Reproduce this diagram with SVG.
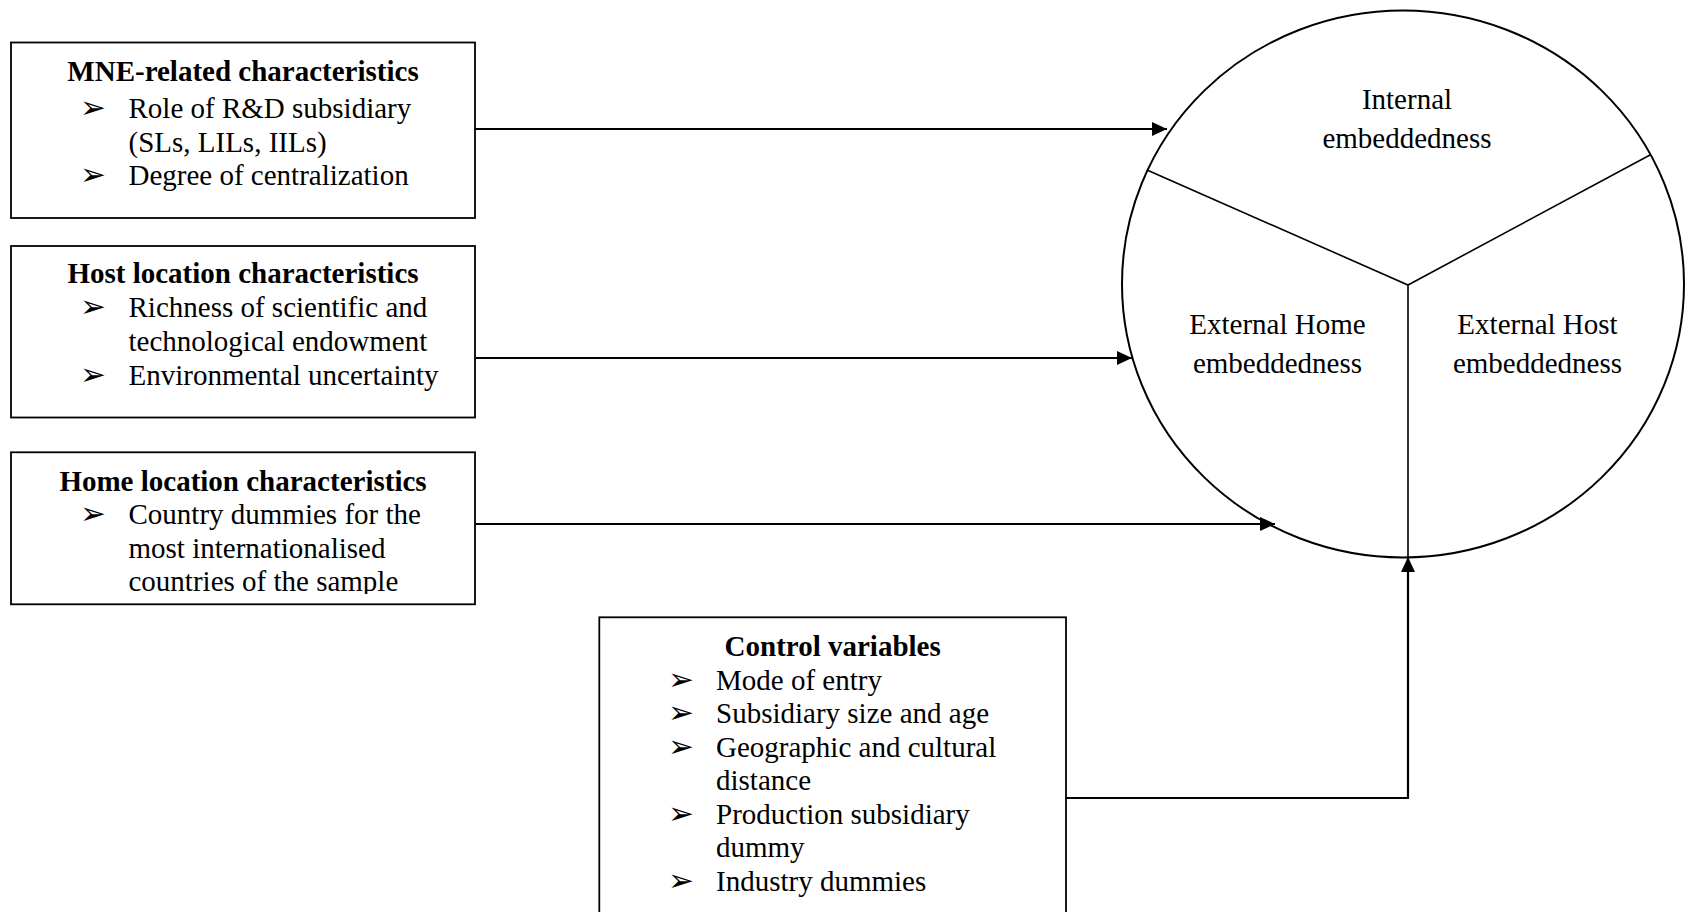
<svg xmlns="http://www.w3.org/2000/svg" width="1687" height="912" viewBox="0 0 1687 912">
  <style>
    .box { fill: #ffffff; stroke: #000000; stroke-width: 1.8; }
    .t { font-family: "Liberation Serif", "Times New Roman", serif; font-size: 29px; fill: #000000; }
    .title { font-weight: bold; text-anchor: middle; }
    .mid { text-anchor: middle; }
    .bul { font-family: "DejaVu Sans", sans-serif; font-size: 31px; fill: #000000; }
    .edge { fill: none; stroke: #000000; stroke-width: 2.2; }
    .div { fill: none; stroke: #000000; stroke-width: 1.6; }
  </style>
  <defs>
    <marker id="arrow" viewBox="0 0 15 14" refX="15" refY="7" markerWidth="15" markerHeight="14" markerUnits="userSpaceOnUse" orient="auto">
      <path d="M0,0 L15,7 L0,14 Z" fill="#000000"/>
    </marker>
    <clipPath id="homeClip">
      <rect x="10" y="452" width="467" height="142"/>
    </clipPath>
  </defs>
  <rect width="1687" height="912" fill="#ffffff"/>

  <!-- MNE-related characteristics -->
  <g id="mne">
    <rect class="box" x="11" y="42.5" width="464" height="175.5"/>
    <text class="t title" x="243" y="80.5">MNE-related characteristics</text>
    <text class="bul" x="80" y="118">➢</text>
    <text class="t" x="128.5" y="118">Role of R&amp;D subsidiary</text>
    <text class="t" x="128.5" y="151.5">(SLs, LILs, IILs)</text>
    <text class="bul" x="80" y="185">➢</text>
    <text class="t" x="128.5" y="185">Degree of centralization</text>
  </g>

  <!-- Host location characteristics -->
  <g id="host">
    <rect class="box" x="11" y="246" width="464" height="171.5"/>
    <text class="t title" x="243" y="283.3">Host location characteristics</text>
    <text class="bul" x="80" y="317">➢</text>
    <text class="t" x="128.5" y="317">Richness of scientific and</text>
    <text class="t" x="128.5" y="350.5">technological endowment</text>
    <text class="bul" x="80" y="384.5">➢</text>
    <text class="t" x="128.5" y="384.5">Environmental uncertainty</text>
  </g>

  <!-- Home location characteristics -->
  <g id="home">
    <rect class="box" x="11" y="452.3" width="464" height="152"/>
    <g clip-path="url(#homeClip)">
      <text class="t title" x="243" y="490.5">Home location characteristics</text>
      <text class="bul" x="80" y="524">➢</text>
      <text class="t" x="128.5" y="524">Country dummies for the</text>
      <text class="t" x="128.5" y="557.5">most internationalised</text>
      <text class="t" x="128.5" y="591">countries of the sample</text>
    </g>
  </g>

  <!-- Control variables -->
  <g id="control">
    <rect class="box" x="599.3" y="617.3" width="466.7" height="320"/>
    <text class="t title" x="832.7" y="656">Control variables</text>
    <text class="bul" x="668" y="689.5">➢</text>
    <text class="t" x="716" y="689.5">Mode of entry</text>
    <text class="bul" x="668" y="723">➢</text>
    <text class="t" x="716" y="723">Subsidiary size and age</text>
    <text class="bul" x="668" y="756.5">➢</text>
    <text class="t" x="716" y="756.5">Geographic and cultural</text>
    <text class="t" x="716" y="790">distance</text>
    <text class="bul" x="668" y="823.5">➢</text>
    <text class="t" x="716" y="823.5">Production subsidiary</text>
    <text class="t" x="716" y="857">dummy</text>
    <text class="bul" x="668" y="890.5">➢</text>
    <text class="t" x="716" y="890.5">Industry dummies</text>
  </g>

  <!-- Embeddedness circle split into three sectors -->
  <g id="embeddedness">
    <ellipse cx="1403" cy="284" rx="281" ry="273.5" fill="none" stroke="#000000" stroke-width="2"/>
    <path class="div" d="M1147,170 L1408,285 L1650,155 M1408,285 L1408,557"/>
    <text class="t mid" x="1407" y="108.5">Internal</text>
    <text class="t mid" x="1407" y="147.5">embeddedness</text>
    <text class="t mid" x="1277.5" y="333.5">External Home</text>
    <text class="t mid" x="1277.5" y="372.5">embeddedness</text>
    <text class="t mid" x="1537.5" y="333.5">External Host</text>
    <text class="t mid" x="1537.5" y="372.5">embeddedness</text>
  </g>

  <!-- Connectors -->
  <g id="connectors">
    <path class="edge" d="M475,129 L1167,129" marker-end="url(#arrow)"/>
    <path class="edge" d="M475,358 L1132,358" marker-end="url(#arrow)"/>
    <path class="edge" d="M475,524 L1275,524" marker-end="url(#arrow)"/>
    <path class="edge" d="M1066,798 L1408,798 L1408,557" marker-end="url(#arrow)"/>
  </g>
</svg>
